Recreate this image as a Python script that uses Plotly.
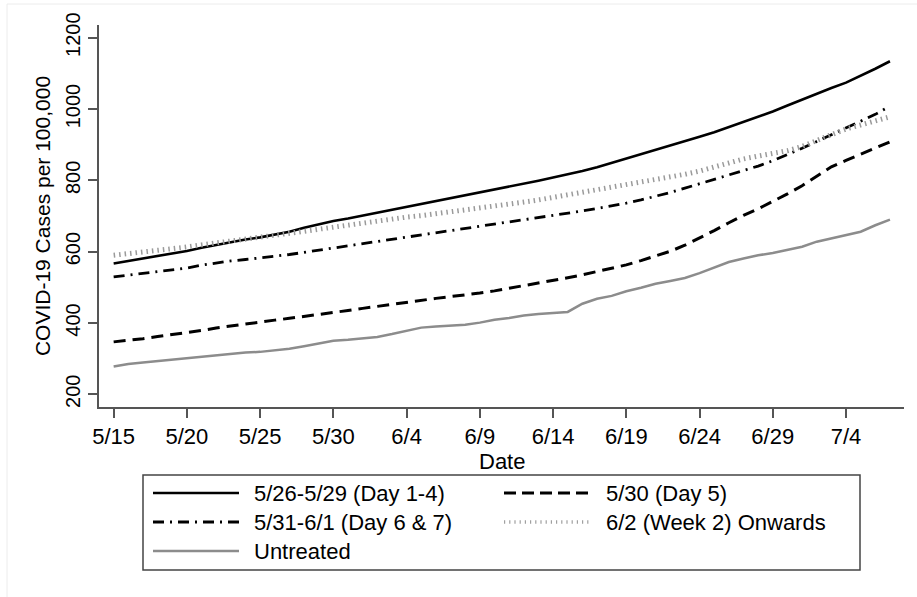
import pandas as pd
import plotly.graph_objects as go

# Daily observations, 5/15 through 7/7
dates = pd.date_range("2020-05-15", "2020-07-07", freq="D")

day_1_4 = [567, 574, 580, 588, 595, 602, 611, 619, 627, 634, 640, 647, 656, 667, 677, 686, 693,
           701, 709, 717, 725, 734, 743, 751, 758, 765, 773, 781, 790, 799, 808, 816, 826, 837, 849,
           862, 873, 885, 898, 911, 922, 935, 949, 963, 978, 993, 1010,
           1027, 1043, 1059, 1074, 1093, 1113, 1134]
day_5 = [347, 351, 356, 362, 367, 372, 379, 386, 392, 398, 403, 408, 413, 418, 424, 429, 435,
         441, 447, 453, 459, 464, 469, 474, 478, 484, 490, 497, 504, 511, 519, 527, 535, 544, 553,
         563, 575, 588, 601, 618, 638, 659, 681, 702, 720, 740, 762,
         785, 812, 838, 856, 874, 891, 908]
day_6_7 = [529, 534, 539, 544, 548, 554, 562, 569, 574, 578, 582, 587, 592, 598, 604, 610, 616,
           622, 628, 634, 640, 646, 652, 658, 664, 670, 676, 682, 688, 694, 700, 707, 714, 721, 728,
           736, 745, 755, 766, 778, 790, 802, 814, 826, 840, 855, 872,
           890, 909, 928, 946, 964, 985, 1008]
week_2_on = [590, 594, 599, 604, 608, 613, 619, 624, 630, 635, 640, 646, 652, 657, 663, 669, 675,
             681, 686, 692, 697, 701, 706, 711, 716, 721, 727, 733, 739, 745, 752, 758, 765, 772, 779,
             786, 793, 801, 809, 817, 826, 838, 850, 860, 868, 875, 883,
             895, 910, 928, 944, 955, 966, 978]
untreated = [278, 285, 289, 293, 297, 303, 307, 311, 315, 317, 319, 323, 328, 335, 343, 350, 353,
             356, 361, 369, 378, 387, 390, 392, 395, 401, 409, 414, 421, 425, 428, 431, 454, 468, 476,
             489, 499, 510, 518, 526, 540, 555, 571, 581, 590, 596, 604,
             614, 628, 638, 648, 656, 674, 690]

series_names = ["5/26-5/29 (Day 1-4)", "5/30 (Day 5)", "5/31-6/1 (Day 6 & 7)",
                "6/2 (Week 2) Onwards", "Untreated"]

x_tick_dates = ["2020-05-15", "2020-05-20", "2020-05-25", "2020-05-30", "2020-06-04",
                "2020-06-09", "2020-06-14", "2020-06-19", "2020-06-24", "2020-06-29", "2020-07-04"]
x_tick_labels = ["5/15", "5/20", "5/25", "5/30", "6/4", "6/9", "6/14", "6/19", "6/24", "6/29", "7/4"]
y_ticks = [200, 400, 600, 800, 1000, 1200]
x_title = "Date"
y_title = "COVID-19 Cases per 100,000"

FONT = "Arial, Liberation Sans, sans-serif"
AXIS_COLOR = "#555555"

styles = [
    dict(color="black", width=2.6, dash="solid"),
    dict(color="black", width=3, dash="12px,7px"),
    dict(color="black", width=2.8, dash="11px,6px,2px,6px"),
    dict(color="#9a9a9a", width=5, dash="1.5px,4px"),
    dict(color="#8c8c8c", width=2.5, dash="solid"),
]
all_series = [day_1_4, day_5, day_6_7, week_2_on, untreated]

fig = go.Figure()
for name, values, style in zip(series_names, all_series, styles):
    fig.add_trace(go.Scatter(x=dates, y=values, mode="lines", name=name,
                             line=style, showlegend=False, hoverinfo="x+y+name"))

# Plot area in pixels
W, H = 917, 597
L, R, T, B = 99, 13, 25, 190
PW, PH = W - L - R, H - T - B


def px(x):
    return (x - L) / PW


def py(y):
    return (H - B - y) / PH


# Boxed legend below the plot: two columns of line samples with labels
legend_box = dict(x0=143, x1=860, y0=475, y1=570)
legend_rows = [493, 522, 551]
legend_cols = [(153, 239, 252), (504, 590, 604)]
legend_slots = [(0, 0), (0, 1), (1, 0), (1, 1), (2, 0)]
legend_styles = [
    dict(color="black", width=2.6, dash="solid"),
    dict(color="black", width=3, dash="12px,6px"),
    dict(color="black", width=2.8, dash="11px,6px,2px,6px"),
    dict(color="#a0a0a0", width=3.5, dash="1.2px,4px"),
    dict(color="#8c8c8c", width=2.5, dash="solid"),
]

shapes = [
    dict(type="rect", xref="paper", yref="paper",
         x0=px(legend_box["x0"]), x1=px(legend_box["x1"]),
         y0=py(legend_box["y1"]), y1=py(legend_box["y0"]),
         line=dict(color="#444444", width=1.5), fillcolor="rgba(0,0,0,0)"),
    # faint outer frame of the graph region
    dict(type="line", xref="paper", yref="paper", x0=px(7), x1=px(917), y0=py(4), y1=py(4),
         line=dict(color="#ececec", width=1)),
    dict(type="line", xref="paper", yref="paper", x0=px(7), x1=px(7), y0=py(4), y1=py(597),
         line=dict(color="#ececec", width=1)),
]
annotations = [
    # x-axis title, set close under the tick labels
    dict(text=x_title, xref="paper", yref="paper", x=0.5, y=py(461),
         xanchor="center", yanchor="middle", showarrow=False,
         font=dict(family=FONT, size=22, color="black")),
]
for name, (row, col), style in zip(series_names, legend_slots, legend_styles):
    x0, x1, xt = legend_cols[col]
    yy = legend_rows[row]
    shapes.append(dict(type="line", xref="paper", yref="paper",
                       x0=px(x0), x1=px(x1), y0=py(yy), y1=py(yy), line=style))
    annotations.append(dict(text=name, xref="paper", yref="paper", x=px(xt), y=py(yy),
                            xanchor="left", yanchor="middle", showarrow=False,
                            font=dict(family=FONT, size=22, color="black")))

fig.update_layout(
    width=W, height=H,
    margin=dict(l=L, r=R, t=T, b=B, pad=0),
    paper_bgcolor="white", plot_bgcolor="white",
    font=dict(family=FONT, color="black"),
    shapes=shapes,
    annotations=annotations,
    showlegend=False,
)

fig.update_xaxes(
    range=["2020-05-14", "2020-07-07 23:00"],
    tickmode="array", tickvals=x_tick_dates, ticktext=x_tick_labels,
    tickfont=dict(size=22, family=FONT, color="black"),
    showgrid=False, zeroline=False,
    showline=True, linecolor=AXIS_COLOR, linewidth=1.5,
    ticks="outside", ticklen=9, tickwidth=1.5, tickcolor=AXIS_COLOR,
)
fig.update_yaxes(
    range=[164.4, 1235.6],
    tickmode="array", tickvals=y_ticks, ticktext=[str(v) for v in y_ticks],
    tickangle=-90,
    tickfont=dict(size=20, family=FONT, color="black"),
    showgrid=False, zeroline=False,
    showline=True, linecolor=AXIS_COLOR, linewidth=1.5,
    ticks="outside", ticklen=9, tickwidth=1.5, tickcolor=AXIS_COLOR,
    title=dict(text=y_title, font=dict(size=21, family=FONT, color="black"), standoff=6),
)

fig.write_html("out.html")
